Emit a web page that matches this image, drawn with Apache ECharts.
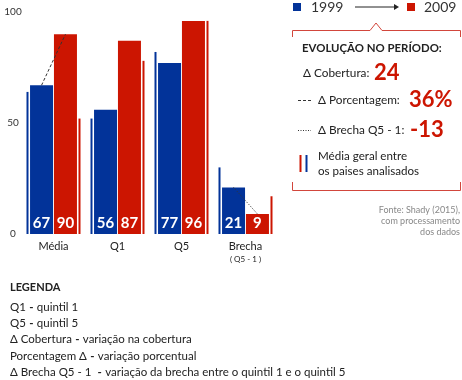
<!DOCTYPE html>
<html>
<head>
<meta charset="utf-8">
<script src="https://cdn.jsdelivr.net/npm/echarts@6/dist/echarts.min.js"></script>
<style>
html,body{margin:0;padding:0;background:#fff;}
#chart{width:462px;height:380px;}
</style>
</head>
<body>
<div id="chart"></div>
<script>
// ---- data ----
const categories = ['Média', 'Q1', 'Q5', 'Brecha'];
const values1999 = [67, 56, 77, 21];
const values2009 = [90, 87, 96, 9];
const average1999 = [64, 52, 82, 30];
const average2009 = [52, 78, 96, 17];
const yTicks = [0, 50, 100];
const years = ['1999', '2009'];
const evolutionLabels = ['Δ Cobertura:', 'Δ Porcentagem:', 'Δ Brecha Q5 - 1:'];
const evolutionValues = ['24', '36%', '-13'];
const legendLines = [
  ['Q1', 'quintil 1'],
  ['Q5', 'quintil 5'],
  ['Δ Cobertura', 'variação na cobertura'],
  ['Porcentagem Δ', 'variação porcentual'],
  ['Δ Brecha Q5 - 1 ', 'variação da brecha entre o quintil 1 e o quintil 5']
];

// ---- style / layout ----
const BLUE = '#023399';
const RED = '#cc1501';
const FONT = 'Lato';
const gridLeft = 21.5, gridRight = 184.5, gridTop = 12, gridBottom = 146;
const gridWidth = 462 - gridLeft - gridRight;
const bandPx = gridWidth / categories.length;
const barW = 23, barGapRatio = 0.04;
const barOff = (barW * (1 + barGapRatio)) / 2 / bandPx;

const chart = echarts.init(document.getElementById('chart'), null, {renderer: 'canvas'});

const dashedLine = [[0 + 0.5 - barOff, values1999[0]], [0 + 0.5 + barOff, values2009[0]]];
const dottedLine = [[3 + 0.5 - barOff, values1999[3]], [3 + 0.5 + barOff, values2009[3]]];

const graphics = [];
// top legend
graphics.push({type: 'rect', shape: {x: 293, y: 3, width: 8, height: 8}, style: {fill: BLUE}});
graphics.push({type: 'text', x: 311, y: 7, style: {text: years[0], fontFamily: FONT, fontSize: 14, fill: '#333', verticalAlign: 'middle'}});
graphics.push({type: 'line', shape: {x1: 355, y1: 7, x2: 395, y2: 7}, style: {stroke: '#222', lineWidth: 1}});
graphics.push({type: 'polygon', shape: {points: [[394, 4], [399, 7], [394, 10]]}, style: {fill: '#222'}});
graphics.push({type: 'rect', shape: {x: 407, y: 3, width: 8, height: 8}, style: {fill: RED}});
graphics.push({type: 'text', x: 424, y: 7, style: {text: years[1], fontFamily: FONT, fontSize: 14, fill: '#333', verticalAlign: 'middle'}});
// brackets
graphics.push({type: 'polyline', shape: {points: [[292.5, 37], [292.5, 30.5], [370, 30.5], [376, 23], [382, 30.5], [460.5, 30.5], [460.5, 37]]}, style: {stroke: '#d2463c', lineWidth: 1, fill: null}});
graphics.push({type: 'polyline', shape: {points: [[292.5, 182], [292.5, 190.5], [460.5, 190.5], [460.5, 182]]}, style: {stroke: '#d2463c', lineWidth: 1, fill: null}});
// evolution block
graphics.push({type: 'text', x: 302, y: 48, style: {text: 'EVOLUÇÃO NO PERÍODO:', fontFamily: FONT, fontSize: 11.4, fontWeight: 'bold', fill: '#222', verticalAlign: 'middle'}});
const evoY = [73, 100, 130];
const evoX = [303, 318, 318];
const evoValX = [374, 409, 410];
for (let i = 0; i < 3; i++) {
  graphics.push({type: 'text', x: evoX[i], y: evoY[i], style: {text: evolutionLabels[i], fontFamily: FONT, fontSize: 11.8, fill: '#222', verticalAlign: 'middle'}});
  graphics.push({type: 'text', x: evoValX[i], y: evoY[i], style: {text: evolutionValues[i], fontFamily: FONT, fontSize: 22, fontWeight: 'bold', fill: RED, verticalAlign: 'middle'}});
}
graphics.push({type: 'line', shape: {x1: 298, y1: 100.5, x2: 311, y2: 100.5}, style: {stroke: '#333', lineWidth: 1, lineDash: [3, 2]}});
graphics.push({type: 'line', shape: {x1: 298, y1: 130.5, x2: 311, y2: 130.5}, style: {stroke: '#333', lineWidth: 1, lineDash: [1, 1.5]}});
graphics.push({type: 'rect', shape: {x: 299.5, y: 155, width: 2, height: 17}, style: {fill: RED}});
graphics.push({type: 'rect', shape: {x: 305.5, y: 155, width: 2, height: 17}, style: {fill: BLUE}});
graphics.push({type: 'text', x: 318, y: 156, style: {text: 'Média geral entre', fontFamily: FONT, fontSize: 11.6, fill: '#222', verticalAlign: 'middle'}});
graphics.push({type: 'text', x: 318, y: 171, style: {text: 'os paises analisados', fontFamily: FONT, fontSize: 11.6, fill: '#222', verticalAlign: 'middle'}});
// source
const fonte = ['Fonte: Shady (2015),', 'com processamento', 'dos dados'];
fonte.forEach((t, i) => graphics.push({type: 'text', x: 460, y: 210 + i * 11, style: {text: t, fontFamily: FONT, fontSize: 9, fill: '#888', align: 'right', verticalAlign: 'middle'}}));
// bottom legend
graphics.push({type: 'text', x: 10, y: 287, style: {text: 'LEGENDA', fontFamily: FONT, fontSize: 11, fontWeight: 'bold', fill: '#222', verticalAlign: 'middle'}});
legendLines.forEach((l, i) => graphics.push({
  type: 'text', x: 10, y: 307 + i * 16.3,
  style: {
    text: '{a|' + l[0] + '} {b|-} {a|' + l[1] + '}',
    verticalAlign: 'middle',
    rich: {
      a: {fontFamily: FONT, fontSize: 11.5, fill: '#222'},
      b: {fontFamily: FONT, fontSize: 11.5, fontWeight: 'bold', fill: '#222'}
    }
  }
}));

const barLabel = {show: true, position: 'insideBottom', distance: 3, color: '#fff', fontFamily: FONT, fontWeight: 'bold', fontSize: 15};

chart.setOption({
  animation: false,
  textStyle: {fontFamily: FONT},
  grid: {left: gridLeft, right: gridRight, top: gridTop, bottom: gridBottom, containLabel: false},
  xAxis: [
    {
      type: 'category', data: categories, gridIndex: 0,
      axisLine: {show: false}, axisTick: {show: false},
      axisLabel: {
        margin: 6, color: '#222', fontSize: 11, fontFamily: FONT, interval: 0,
        formatter: function (v) {
          if (v === 'Brecha') return '{m|Brecha}\n{s|( Q5 - 1 )}';
          return '{m|' + v + '}';
        },
        rich: {
          m: {fontSize: 11, color: '#222', fontFamily: FONT, lineHeight: 13},
          s: {fontSize: 8, color: '#222', fontFamily: FONT, lineHeight: 13}
        }
      }
    },
    {type: 'category', data: categories, gridIndex: 0, show: false},
    {type: 'value', min: 0, max: categories.length, gridIndex: 0, show: false}
  ],
  yAxis: {
    type: 'value', min: yTicks[0], max: yTicks[yTicks.length - 1], interval: yTicks[1] - yTicks[0],
    axisLine: {show: false}, axisTick: {show: false}, splitLine: {show: false},
    axisLabel: {align: 'center', margin: 8.5, color: '#333', fontSize: 10, fontFamily: FONT}
  },
  graphic: graphics,
  series: [
    {type: 'bar', name: 'avg1999', xAxisIndex: 1, data: average1999, barWidth: 2, barGap: '2500%', itemStyle: {color: BLUE}, silent: true},
    {type: 'bar', name: 'avg2009', xAxisIndex: 1, data: average2009, barWidth: 2, barGap: '2500%', itemStyle: {color: RED}, silent: true},
    {type: 'bar', name: '1999', xAxisIndex: 0, data: values1999, barWidth: barW, barGap: (barGapRatio * 100) + '%', itemStyle: {color: BLUE}, label: barLabel, silent: true},
    {type: 'bar', name: '2009', xAxisIndex: 0, data: values2009, barWidth: barW, barGap: (barGapRatio * 100) + '%', itemStyle: {color: RED}, label: barLabel, silent: true},
    {type: 'line', xAxisIndex: 2, data: dashedLine, symbol: 'none', z: 5, lineStyle: {color: '#333', width: 1, type: [3, 2]}, silent: true},
    {type: 'line', xAxisIndex: 2, data: dottedLine, symbol: 'none', z: 5, lineStyle: {color: '#333', width: 1, type: [1, 1.5]}, silent: true}
  ]
});
</script>
</body>
</html>
